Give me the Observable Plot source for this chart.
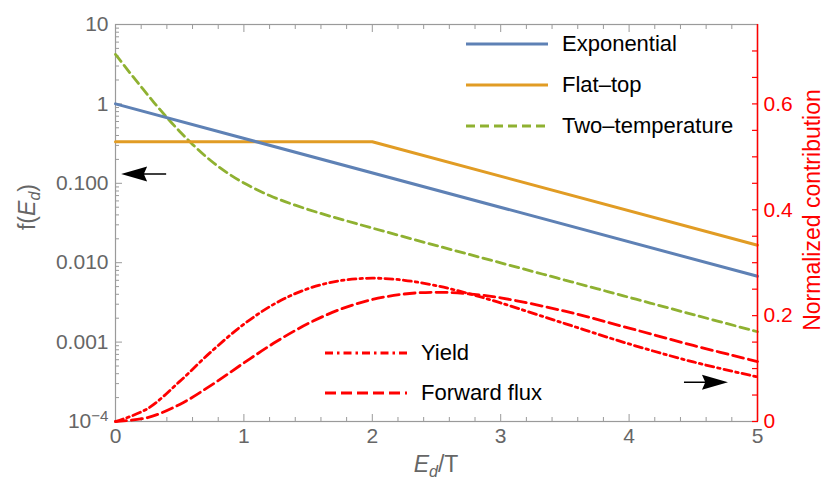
<!DOCTYPE html>
<html><head><meta charset="utf-8">
<script src="https://cdn.jsdelivr.net/npm/d3@7"></script>
<script src="https://cdn.jsdelivr.net/npm/@observablehq/plot@0.6"></script>
<style>
body{margin:0;background:#fff;font-family:"Liberation Sans",Arial,Helvetica,sans-serif}
#wrap{position:relative;width:825px;height:483px;overflow:hidden}
#wrap svg.p{position:absolute;left:0;top:0}
.lab{position:absolute;white-space:nowrap;transform-origin:center center;line-height:1}
.leg{position:absolute;display:flex;align-items:center;height:30px;font-size:22px;color:#000;white-space:nowrap}
.leg svg{display:block;margin-right:14px}
</style></head><body><div id="wrap"></div>
<script>
// ---------- data ----------
const expX = [0, 5];
const expY = [1, 0.00674];
const flatX = [0, 2, 5];
const flatY = [0.333, 0.333, 0.0166];
const twoX = [0,0.1,0.2,0.3,0.4,0.5,0.6,0.7,0.8,0.9,1.0,1.2,1.4,1.6,1.8,2.0,2.5,3.0,3.5,4.0,4.5,5.0];
const twoY = [4.2,2.61,1.64,1.04,0.675,0.450,0.309,0.220,0.163,0.126,0.101,0.0701,0.0530,0.0417,0.0336,0.0273,0.0164,0.00996,0.00604,0.00366,0.00222,0.00135];
const redX = [0,0.25,0.5,0.75,1.0,1.25,1.5,1.75,2.0,2.25,2.5,2.75,3.0,3.5,4.0,4.5,5.0];
const yieldY = [0,0.0243,0.0758,0.1329,0.1839,0.2238,0.2510,0.2661,0.2707,0.2668,0.2565,0.2417,0.2240,0.1850,0.1465,0.1125,0.0842];
const fluxY = [0,0.0073,0.0323,0.0692,0.1107,0.1506,0.1850,0.2119,0.2304,0.2409,0.2441,0.2412,0.2336,0.2084,0.1764,0.1437,0.1133];

const xDomain = [0, 5];
const yDomain = [1e-4, 10];
const rDomain = [0, 0.75];
const xMajor = [0,1,2,3,4,5];
const xMinor = [0.2,0.4,0.6,0.8,1.2,1.4,1.6,1.8,2.2,2.4,2.6,2.8,3.2,3.4,3.6,3.8,4.2,4.4,4.6,4.8];
const yMajor = [1e-4,1e-3,1e-2,1e-1,1,10];
const yTickLabels = ["10^-4","0.001","0.010","0.100","1","10"];
const yDecades = [1e-4,1e-3,1e-2,1e-1,1];
const yMinorMult = [2,3,4,5,6,7,8,9];
const rMajor = [0,0.2,0.4,0.6];
const rMajorLabels = ["0","0.2","0.4","0.6"];
const rTicks = [0,0.05,0.1,0.15,0.2,0.25,0.3,0.35,0.4,0.45,0.5,0.55,0.6,0.65,0.7];
const arrowLeft = [{x: 0.044, y: 0.131}];
const arrowRight = [{x: 4.77, y: 0.0742}];

const legendTop = [
  {label:"Exponential", color:"#5E81B5", dash:null, w:3},
  {label:"Flat\u2013top", color:"#E19C24", dash:null, w:3},
  {label:"Two\u2013temperature", color:"#8FB131", dash:"9,5", w:3}
];
const legendBottom = [
  {label:"Yield", color:"#FF0000", dash:"8,4,2.5,4", w:2.8},
  {label:"Forward flux", color:"#FF0000", dash:"11,5", w:2.8}
];

// ---------- build ----------
const W = 825, H = 483;
const M = {marginTop: 24, marginRight: 68, marginBottom: 62, marginLeft: 115};
const gray = "#9a9a9a", tgray = "#666";
const font = '"Liberation Sans",Arial,Helvetica,sans-serif';
const yMinor = yDecades.flatMap(d => yMinorMult.map(m => d * m));
const rows = (xs, ys) => xs.map((x, i) => ({x, y: ys[i]}));

const leftHead = {draw(c){c.moveTo(0,0);c.lineTo(26,-7.5);c.lineTo(23,-0.8);c.lineTo(45,-0.8);c.lineTo(45,0.8);c.lineTo(23,0.8);c.lineTo(26,7.5);c.closePath();}};
const rightHead = {draw(c){c.moveTo(0,0);c.lineTo(-26,-7.5);c.lineTo(-23,-0.8);c.lineTo(-44,-0.8);c.lineTo(-44,0.8);c.lineTo(-23,0.8);c.lineTo(-26,7.5);c.closePath();}};

const p1 = Plot.plot({
  width: W, height: H, ...M,
  style: {fontSize: "21px", fontFamily: font, color: tgray, background: "transparent", overflow: "visible"},
  x: {domain: xDomain, axis: null},
  y: {type: "log", domain: yDomain, axis: null},
  marks: [
    Plot.frame({stroke: gray, strokeWidth: 1.2}),
    Plot.axisX({anchor: "bottom", ticks: xMajor, tickSize: -7, text: null, label: null, stroke: gray}),
    Plot.axisX({anchor: "bottom", ticks: xMinor, tickSize: -4, text: null, label: null, stroke: gray}),
    Plot.axisX({anchor: "top", ticks: xMajor, tickSize: -7, text: null, label: null, stroke: gray}),
    Plot.axisX({anchor: "top", ticks: xMinor, tickSize: -4, text: null, label: null, stroke: gray}),
    Plot.axisX({anchor: "bottom", ticks: xMajor, tickSize: 0, tickPadding: 7, label: null, tickFormat: d => String(d), fill: tgray, fontSize: 21}),
    Plot.axisY({anchor: "left", ticks: yMajor, tickSize: -7, text: null, label: null, stroke: gray}),
    Plot.axisY({anchor: "left", ticks: yMinor, tickSize: -4, text: null, label: null, stroke: gray}),
    Plot.axisY({anchor: "left", ticks: yMajor, tickSize: 0, tickPadding: 7, label: null, tickFormat: (d) => yTickLabels[yMajor.indexOf(d)], fill: tgray, fontSize: 21}),
    Plot.line(rows(twoX, twoY), {x: "x", y: "y", stroke: "#8FB131", strokeWidth: 2.8, strokeDasharray: "9,5", curve: "catmull-rom"}),
    Plot.line(rows(flatX, flatY), {x: "x", y: "y", stroke: "#E19C24", strokeWidth: 3}),
    Plot.line(rows(expX, expY), {x: "x", y: "y", stroke: "#5E81B5", strokeWidth: 3}),
    Plot.dot(arrowLeft, {x: "x", y: "y", symbol: leftHead, r: 10, fill: "black", stroke: "none"})
  ]
});

const p2 = Plot.plot({
  width: W, height: H, ...M,
  style: {fontSize: "21px", fontFamily: font, color: "red", background: "transparent", overflow: "visible"},
  x: {domain: xDomain, axis: null},
  y: {domain: rDomain, axis: null},
  marks: [
    Plot.ruleX([xDomain[1]], {stroke: "#FF0000", strokeWidth: 1.5}),
    Plot.axisY({anchor: "right", ticks: rTicks, tickSize: -6, text: null, label: null, stroke: "#FF0000", strokeWidth: 1.2}),
    Plot.axisY({anchor: "right", ticks: rMajor, tickSize: 0, tickPadding: 6, label: null, tickFormat: d => rMajorLabels[rMajor.indexOf(d)], fill: "#FF0000", fontSize: 21}),
    Plot.line(rows(redX, fluxY), {x: "x", y: "y", stroke: "#FF0000", strokeWidth: 2.8, strokeDasharray: "11,5", curve: "catmull-rom"}),
    Plot.line(rows(redX, yieldY), {x: "x", y: "y", stroke: "#FF0000", strokeWidth: 2.8, strokeDasharray: "8,4,2.5,4", curve: "catmull-rom"}),
    Plot.dot(arrowRight, {x: "x", y: "y", symbol: rightHead, r: 10, fill: "black", stroke: "none"})
  ]
});

const wrap = document.getElementById("wrap");
for (const p of [p1, p2]) { p.classList.add("p"); wrap.appendChild(p); }

// superscript for 10^-4
const NS = "http://www.w3.org/2000/svg";
p1.querySelectorAll("text").forEach(t => {
  if (t.textContent === "10^-4") {
    t.textContent = "10";
    const ts = document.createElementNS(NS, "tspan");
    ts.setAttribute("dy", "-0.45em");
    ts.setAttribute("font-size", "0.72em");
    ts.textContent = "\u22124";
    t.appendChild(ts);
  }
});

// axis titles
function addLabel(html, x, y, rot, color, size) {
  const d = document.createElement("div");
  d.className = "lab";
  d.innerHTML = html;
  d.style.left = x + "px"; d.style.top = y + "px";
  d.style.color = color; d.style.fontSize = size + "px";
  d.style.transform = `translate(-50%,-50%) rotate(${rot}deg)`;
  wrap.appendChild(d);
}
addLabel('f(<i>E</i><sub style="font-size:0.7em"><i>d</i></sub>)', 29, 207, -90, tgray, 23);
addLabel('<i>E</i><sub style="font-size:0.7em"><i>d</i></sub>/T', 436, 466, 0, tgray, 23);
addLabel('Normalized contribution', 812, 210, -90, "#FF0000", 23);

// legends
function addLegend(items, left, top0, step) {
  items.forEach((it, i) => {
    const row = document.createElement("div");
    row.className = "leg";
    row.style.left = left + "px";
    row.style.top = (top0 + i * step - 15) + "px";
    row.innerHTML = `<svg width="82" height="8"><line x1="0" x2="82" y1="4" y2="4" stroke="${it.color}" stroke-width="${it.w}" ${it.dash ? `stroke-dasharray="${it.dash}"` : ""}/></svg><span>${it.label}</span>`;
    wrap.appendChild(row);
  });
}
addLegend(legendTop, 466, 44, 41);
addLegend(legendBottom, 325, 353, 40);
</script></body></html>
